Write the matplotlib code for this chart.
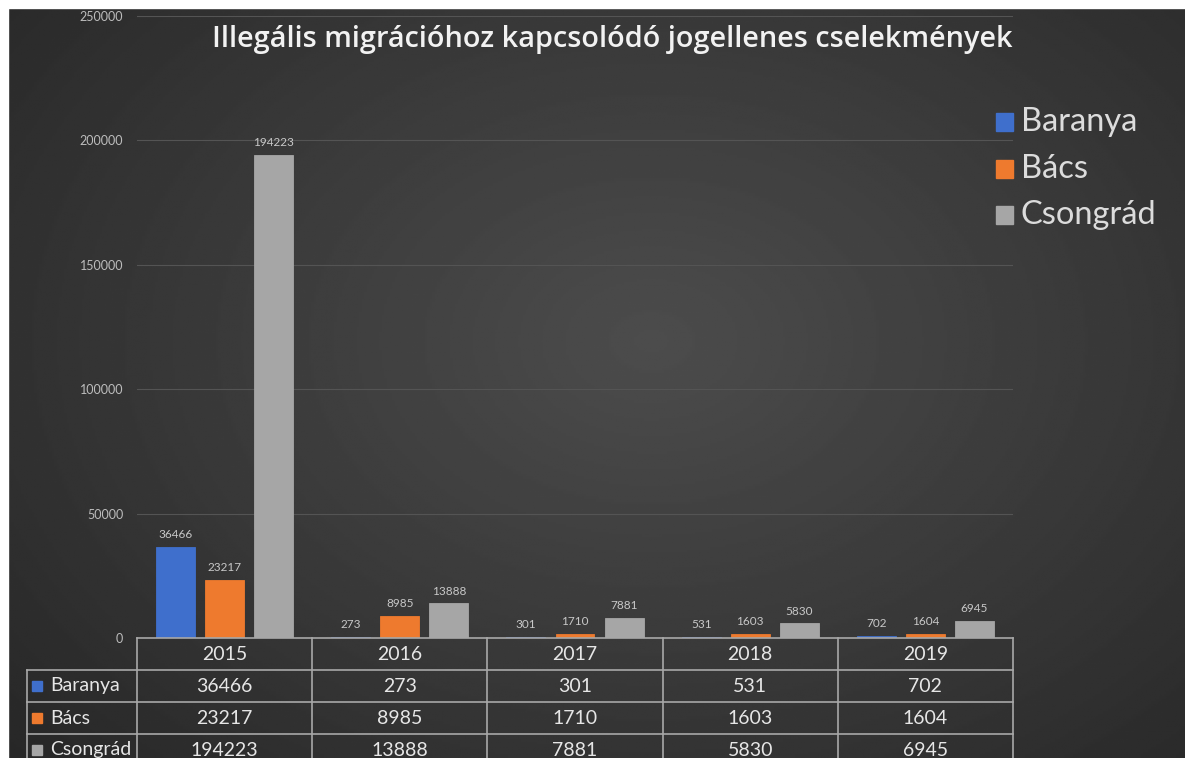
import numpy as np
import matplotlib
matplotlib.use("Agg")
import matplotlib.pyplot as plt
from matplotlib import transforms
from matplotlib.lines import Line2D
from matplotlib.patches import Rectangle

plt.rcParams["font.family"] = ["Lato", "DejaVu Sans"]

years = ["2015", "2016", "2017", "2018", "2019"]
series = ["Baranya", "Bács", "Csongrád"]
baranya = [36466, 273, 301, 531, 702]
bacs = [23217, 8985, 1710, 1603, 1604]
csongrad = [194223, 13888, 7881, 5830, 6945]
colors = ["#3f6fcc", "#ee7a2e", "#a6a6a6"]
title = "Illegális migrációhoz kapcsolódó jogellenes cselekmények"

W, H = 1185, 758
fig = plt.figure(figsize=(W / 100, H / 100), dpi=100)

# dark radial background
bg = fig.add_axes([0, 0, 1, 1])
yy, xx = np.mgrid[0:1:300j, 0:1:470j]
r = np.sqrt(((xx - 0.55) / 0.8) ** 2 + ((yy - 0.45) / 0.9) ** 2)
shade = np.clip(0.30 - 0.16 * r, 0.15, 0.30)
bg.imshow(shade, cmap="gray", vmin=0, vmax=1, extent=[0, 1, 0, 1],
          aspect="auto", origin="upper")
bg.add_patch(Rectangle((0, 1 - 8 / H), 1, 8 / H, color="white"))
bg.add_patch(Rectangle((0, 0), 8 / W, 1, color="white"))
bg.set_xlim(0, 1)
bg.set_ylim(0, 1)
bg.axis("off")


def fx(px):
    return px / W


def fy(py):
    return 1 - py / H


ax = fig.add_axes([fx(137), fy(638), fx(1013) - fx(137), fy(16) - fy(638)])
ax.patch.set_alpha(0)

x = np.arange(len(years))
width = 0.222
offsets = [-0.28, 0.0, 0.28]
data = [baranya, bacs, csongrad]
for vals, off, c, name in zip(data, offsets, colors, series):
    bars = ax.bar(x + off, vals, width, color=c, label=name,
                  edgecolor=c, linewidth=0.6, zorder=3)
    for b, v in zip(bars, vals):
        ax.annotate(str(v), (b.get_x() + b.get_width() / 2, v),
                    xytext=(0, 5), textcoords="offset points",
                    ha="center", va="bottom", fontsize=8.5, color="#c8c8c8")

ax.set_xlim(-0.5, len(years) - 0.5)
ax.set_ylim(0, 250000)
ax.set_yticks(np.arange(0, 250001, 50000))
ax.set_yticklabels([str(v) for v in range(0, 250001, 50000)])
ax.tick_params(axis="y", length=0, colors="#bdbdbd", labelsize=9, pad=10)
ax.set_xticks([])
ax.grid(axis="y", color="#545454", linewidth=0.8, zorder=0)
for s in ax.spines.values():
    s.set_visible(False)

# data table under the plot
tr = transforms.blended_transform_factory(ax.transData, fig.transFigure)
line_col = "#a8a8a8"
row_tops = [638, 670, 702, 734]
for i, yp in enumerate(row_tops):
    left = 137 if i == 0 else 27
    fig.add_artist(Line2D([fx(left), fx(1013)], [fy(yp), fy(yp)],
                          color=line_col, lw=1.2))
for b in np.arange(-0.5, len(years), 1.0):
    fig.add_artist(Line2D([b, b], [fy(638), 0], transform=tr,
                          color=line_col, lw=1.2))
fig.add_artist(Line2D([fx(27), fx(27)], [fy(670), 0], color=line_col, lw=1.2))

txt_col = "#e6e6e6"
for j, yr in enumerate(years):
    fig.text(j, fy(654), yr, transform=tr, ha="center", va="center",
             fontsize=14, color=txt_col)
for i, (name, vals, c) in enumerate(zip(series, data, colors)):
    yc = fy(686 + 32 * i)
    fig.add_artist(Rectangle((fx(32), yc - 5 / H), 10 / W, 10 / H,
                             color=c, transform=fig.transFigure))
    fig.text(fx(50), yc, name, ha="left", va="center",
             fontsize=14, color=txt_col)
    for j, v in enumerate(vals):
        fig.text(j, yc, str(v), transform=tr, ha="center", va="center",
                 fontsize=14, color=txt_col)

# legend
for i, (name, c) in enumerate(zip(series, colors)):
    yc = fy(122 + 46.5 * i)
    fig.add_artist(Rectangle((fx(996), yc - 9 / H), 17 / W, 18 / H,
                             color=c, transform=fig.transFigure))
    fig.text(fx(1021), yc, name, ha="left", va="center",
             fontsize=23.5, color="#dcdcdc")

fig.text(fx(612), fy(40), title, ha="center", va="center",
         fontsize=20.8, fontweight="semibold", color="#f2f2f2",
         family=["Open Sans", "DejaVu Sans"])

fig.savefig("out.png", dpi=100)
